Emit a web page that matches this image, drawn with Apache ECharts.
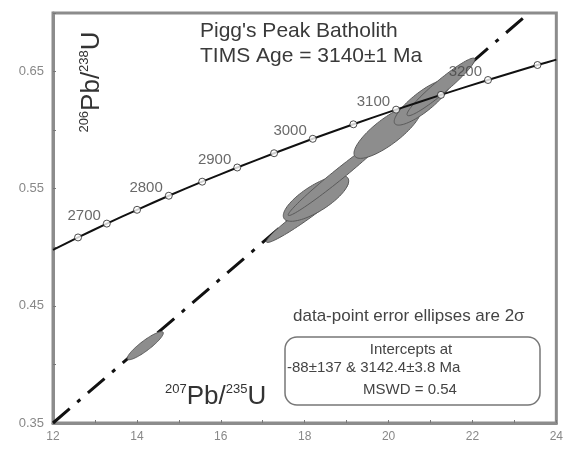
<!DOCTYPE html>
<html>
<head>
<meta charset="utf-8">
<script src="https://cdn.jsdelivr.net/npm/echarts@6/dist/echarts.min.js"></script>
<style>
  html, body { margin: 0; padding: 0; background: #fff; }
  #chart { width: 566px; height: 451px; }
</style>
</head>
<body>
<div id="chart"></div>
<script>
// concordia curve (Ma, 207Pb/235U, 206Pb/238U)
const concAge = [2604, 2650, 2700, 2750, 2800, 2850, 2900, 2950, 3000, 3050, 3100, 3150, 3200, 3250, 3268]
const concX = [12.0, 12.597, 13.283, 14.004, 14.761, 15.557, 16.393, 17.271, 18.193, 19.162, 20.180, 21.249, 22.371, 23.551, 24.0]
const concY = [0.4978, 0.5084, 0.5202, 0.5320, 0.5440, 0.5560, 0.5681, 0.5803, 0.5926, 0.6050, 0.6175, 0.6301, 0.6428, 0.6556, 0.6602]

// discordia line ends
const discX = [12.0, 23.35]
const discY = [0.35, 0.70]

// error ellipses: centre, 2 sigma errors, correlation
const ellCx = [14.20, 18.06, 18.27, 18.79, 19.98, 20.80, 21.25]
const ellCy = [0.416, 0.5295, 0.5418, 0.5614, 0.5989, 0.6237, 0.6369]
const ellSx = [0.43, 0.973, 0.780, 1.183, 0.804, 0.665, 0.81]
const ellSy = [0.012, 0.0254, 0.0196, 0.0343, 0.0230, 0.0194, 0.0246]
const ellRho = [0.90, 0.97, 0.757, 0.985, 0.810, 0.84, 0.955]

const xTicks = [12, 14, 16, 18, 20, 22, 24]
const yTicks = [0.35, 0.45, 0.55, 0.65]

const chart = echarts.init(document.getElementById('chart'))
const font = 'Liberation Sans, Arial, Helvetica, sans-serif'
const axisGrey = '#8c8c8c'

const concLine = concX.map((x, i) => [x, concY[i]])
const concMarks = []
for (let i = 0; i < concAge.length; i++) {
  if (concAge[i] % 50 === 0) concMarks.push([concX[i], concY[i], concAge[i]])
}
const ellData = ellCx.map((c, i) => [c, ellCy[i], ellSx[i], ellSy[i], ellRho[i]])

const sup = { fontSize: 13, verticalAlign: 'top', lineHeight: 14, fontFamily: font, fill: '#333' }
const big = { fontSize: 26, lineHeight: 28, fontFamily: font, fill: '#333' }

const option = {
  animation: false,
  backgroundColor: '#fff',
  grid: {
    left: 53, right: 6, top: 13, bottom: 28,
    show: true,
    borderColor: axisGrey,
    borderWidth: 3,
  },
  xAxis: {
    type: 'value',
    min: 12, max: 24, interval: 1,
    axisLine: { lineStyle: { color: axisGrey, width: 3 } },
    axisTick: { inside: true, length: 3, lineStyle: { color: '#777' } },
    splitLine: { show: false },
    axisLabel: {
      color: '#888', fontSize: 12, fontFamily: font, margin: 8,
      formatter: v => (xTicks.indexOf(v) >= 0 ? String(v) : ''),
    },
  },
  yAxis: {
    type: 'value',
    min: 0.35, max: 0.70, interval: 0.05,
    axisLine: { show: true, lineStyle: { color: axisGrey, width: 3 } },
    axisTick: { show: true, inside: true, length: 3, lineStyle: { color: '#777' } },
    splitLine: { show: false },
    axisLabel: {
      color: '#888', fontSize: 13, fontFamily: font, margin: 9,
      formatter: v => {
        const hit = yTicks.some(t => Math.abs(t - v) < 1e-6)
        return hit ? v.toFixed(2) : ''
      },
    },
  },
  series: [
    {
      // discordia
      type: 'line',
      data: discX.map((x, i) => [x, discY[i]]),
      symbol: 'none',
      lineStyle: { color: '#111', width: 3, type: [22, 10, 4, 10] },
      z: 1,
    },
    {
      type: 'custom',
      data: ellData,
      encode: { x: 0, y: 1 },
      z: 2,
      renderItem(params, api) {
        const cx = api.value(0), cy = api.value(1)
        const sx = api.value(2), sy = api.value(3), r = api.value(4)
        const q = Math.sqrt(1 - r * r)
        const pts = []
        for (let k = 0; k < 90; k++) {
          const t = (k / 90) * Math.PI * 2
          pts.push(api.coord([cx + sx * Math.cos(t), cy + sy * (r * Math.cos(t) + q * Math.sin(t))]))
        }
        return {
          type: 'polygon',
          shape: { points: pts },
          style: { fill: '#8d8d8d', stroke: '#5a5a5a', lineWidth: 1 },
        }
      },
    },
    {
      // concordia
      type: 'line',
      data: concLine,
      symbol: 'none',
      smooth: 0.2,
      lineStyle: { color: '#111', width: 2 },
      z: 3,
    },
    {
      type: 'scatter',
      data: concMarks,
      symbol: 'circle',
      symbolSize: 7,
      itemStyle: { color: '#fff', borderColor: '#222', borderWidth: 1 },
      label: {
        show: true,
        position: 'left',
        distance: 2,
        offset: [0, -8],
        color: '#444',
        fontSize: 15,
        fontFamily: font,
        formatter: p => (p.value[2] % 100 === 0 ? String(p.value[2]) : ''),
      },
      z: 4,
    },
  ],
  graphic: [
    {
      type: 'text', left: 200, top: 21,
      style: { text: "Pigg's Peak Batholith", font: '21px ' + font, fill: '#3a3a3a' },
    },
    {
      type: 'text', left: 200, top: 46,
      style: { text: 'TIMS Age = 3140\u00b11 Ma', font: '21px ' + font, fill: '#3a3a3a' },
    },
    {
      type: 'text', x: 92, y: 82, rotation: Math.PI / 2,
      style: {
        text: '{s|206}{b|Pb/}{s|238}{b|U}',
        rich: { s: sup, b: big },
        align: 'center', verticalAlign: 'middle',
      },
    },
    {
      type: 'text', x: 165, y: 383,
      style: {
        text: '{s|207}{b|Pb/}{s|235}{b|U}',
        rich: { s: sup, b: big },
      },
    },
    {
      type: 'text', x: 293, y: 316,
      style: { text: 'data-point error ellipses are 2\u03c3', font: '17px ' + font, fill: '#444', verticalAlign: 'middle' },
    },
    {
      type: 'rect',
      shape: { x: 285, y: 337, width: 255, height: 68, r: 12 },
      style: { fill: 'none', stroke: '#777', lineWidth: 1.5 },
    },
    {
      type: 'text', x: 411, y: 350,
      style: { text: 'Intercepts at', font: '15px ' + font, fill: '#444', align: 'center', verticalAlign: 'middle' },
    },
    {
      type: 'text', x: 287, y: 368,
      style: { text: '-88\u00b1137 & 3142.4\u00b13.8 Ma', font: '15px ' + font, fill: '#444', verticalAlign: 'middle' },
    },
    {
      type: 'text', x: 410, y: 390,
      style: { text: 'MSWD = 0.54', font: '15px ' + font, fill: '#444', align: 'center', verticalAlign: 'middle' },
    },
  ],
}
chart.setOption(option)
</script>
</body>
</html>
